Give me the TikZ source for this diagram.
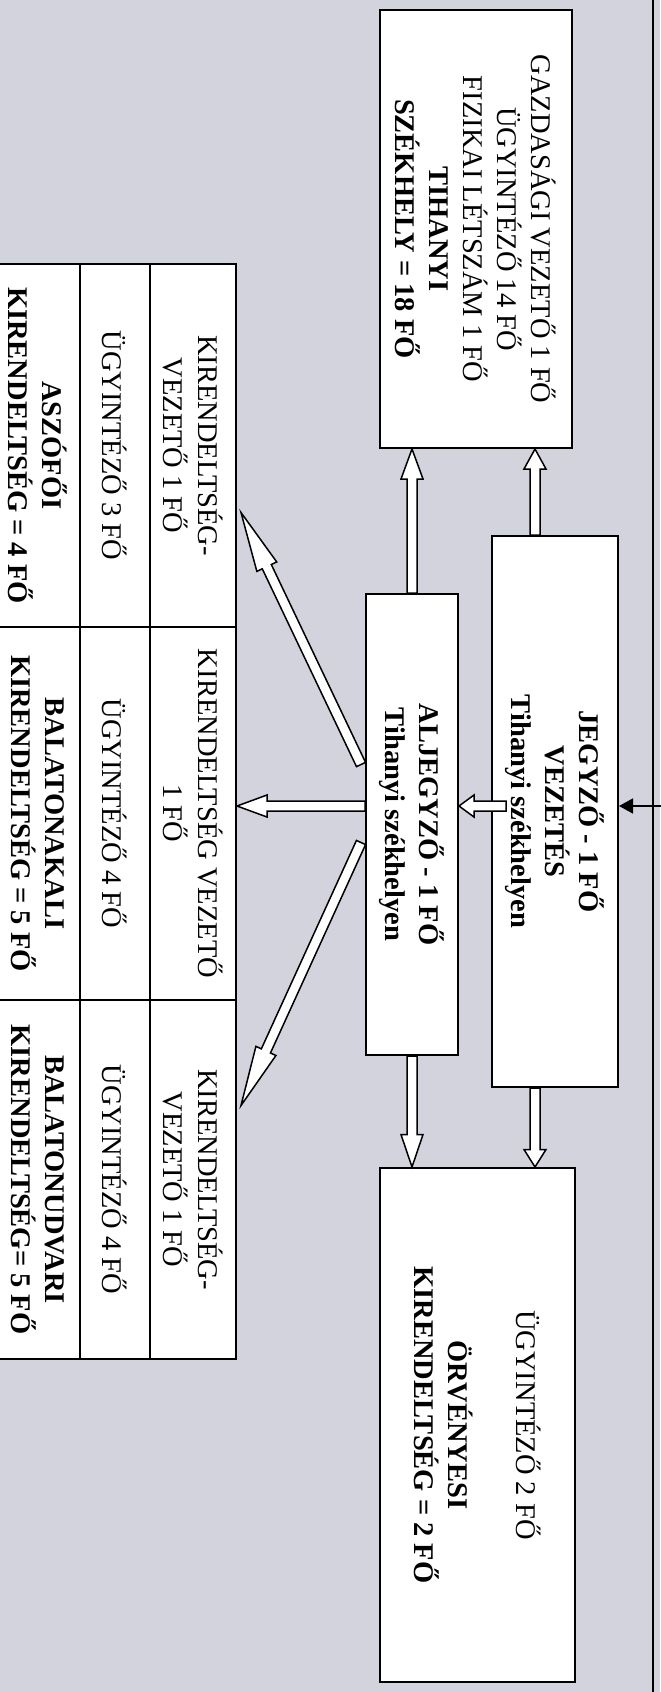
\documentclass[tikz,border=0pt]{standalone}
\usepackage{fontspec}
\setmainfont{Liberation Serif}
\usetikzlibrary{calc,arrows.meta}

\definecolor{scangray}{RGB}{211,211,221}

% hollow block arrow: [head length]{from}{to}
\newcommand{\blockarrow}[3][10pt]{%
  \coordinate (ba-h) at ($(#3)!#1!(#2)$);
  \filldraw[arrowbody]
    ($(#2)!2pt!90:(#3)$) -- ($(ba-h)!2pt!90:(#3)$) -- ($(ba-h)!4.4pt!90:(#3)$) -- (#3)
    -- ($(ba-h)!4.4pt!-90:(#3)$) -- ($(ba-h)!2pt!-90:(#3)$) -- ($(#2)!2pt!-90:(#3)$) -- cycle;
}

\begin{document}
\begin{tikzpicture}[x=0.4pt,y=-0.4pt,
  box/.style={draw,line width=0.8pt,fill=white,rotate=-90,align=center,inner sep=1pt,
    font=\fontsize{11.4}{13.6}\selectfont},
  boldbox/.style={box,font=\bfseries\fontsize{11.4}{13.6}\selectfont},
  cell/.style={draw,line width=0.8pt,fill=white,rotate=-90,align=center,inner sep=1pt,
    font=\fontsize{11.4}{14}\selectfont},
  boldcell/.style={cell,font=\bfseries\fontsize{11.4}{13.6}\selectfont},
  arrowbody/.style={draw,fill=white,line width=0.6pt,line join=miter}]
  \path[use as bounding box,fill=scangray] (0,0) rectangle (660,1692);
  \draw[line width=0.6pt] (653,0) -- (653,1692);

  % main boxes
  \node[box,minimum width=175.2pt,minimum height=76.8pt] (tihany) at (476,229)
    {GAZDASÁGI VEZETŐ 1 FŐ\\ÜGYINTÉZŐ 14 FŐ\\FIZIKAI LÉTSZÁM 1 FŐ\\\textbf{TIHANYI}\\\textbf{SZÉKHELY = 18 FŐ}};
  \node[boldbox,minimum width=220.4pt,minimum height=50.4pt] (jegyzo) at (555,811.5)
    {JEGYZŐ - 1 FŐ\\VEZETÉS\\Tihanyi székhelyen};
  \node[boldbox,minimum width=184.4pt,minimum height=36.8pt] (aljegyzo) at (412,824.5)
    {ALJEGYZŐ - 1 FŐ\\Tihanyi székhelyen};
  \node[box,minimum width=205.6pt,minimum height=78pt] (orveny) at (477.5,1425)
    {ÜGYINTÉZŐ 2 FŐ\\[13.6pt]\textbf{ÖRVÉNYESI}\\\textbf{KIRENDELTSÉG = 2 FŐ}};

  % kirendeltsegek
  \node[cell,minimum width=145.2pt,minimum height=34.4pt] (asz1) at (193,445.5) {KIRENDELTSÉG-\\VEZETŐ 1 FŐ};
  \node[cell,minimum width=149.2pt,minimum height=34.4pt] (akali1) at (193,813.5) {KIRENDELTSÉG VEZETŐ\\1 FŐ};
  \node[cell,minimum width=143.6pt,minimum height=34.4pt] (udv1) at (193,1179.5) {KIRENDELTSÉG-\\VEZETŐ 1 FŐ};
  \node[cell,minimum width=145.2pt,minimum height=28.4pt] (asz2) at (114.5,445.5) {ÜGYINTÉZŐ 3 FŐ};
  \node[cell,minimum width=149.2pt,minimum height=28.4pt] (akali2) at (114.5,813.5) {ÜGYINTÉZŐ 4 FŐ};
  \node[cell,minimum width=143.6pt,minimum height=28.4pt] (udv2) at (114.5,1179.5) {ÜGYINTÉZŐ 4 FŐ};
  \node[boldcell,minimum width=145.2pt,minimum height=34pt] (asz3) at (37.5,445.5) {ASZÓFŐI\\KIRENDELTSÉG = 4 FŐ};
  \node[boldcell,minimum width=149.2pt,minimum height=34pt] (akali3) at (37.5,813.5) {BALATONAKALI\\KIRENDELTSÉG = 5 FŐ};
  \node[boldcell,minimum width=143.6pt,minimum height=34pt] (udv3) at (37.5,1179.5) {BALATONUDVARI\\KIRENDELTSÉG= 5 FŐ};

  \coordinate (row) at (0,806);
  \coordinate (jx) at ($(jegyzo.west)+(-20,0)$);
  \coordinate (kulso) at (665,806);
  \coordinate (dl1) at ($(aljegyzo.south)+(-4,-60)$);
  \coordinate (dl2) at ($(aljegyzo.south)+(-4,18)$);
  \coordinate (t1) at ($(asz1.north)+(4,67)$);
  \coordinate (t3) at ($(udv1.north)+(4,-74)$);

  \draw[-{Triangle[length=5.6pt,width=6pt]},line width=0.6pt] (kulso) -- (jegyzo.north |- row);
  \blockarrow[8pt]{jx}{jx |- tihany.east}
  \blockarrow[12pt]{aljegyzo.west}{aljegyzo.west |- tihany.east}
  \blockarrow[7pt]{jx |- jegyzo.east}{jx |- orveny.west}
  \blockarrow[13pt]{aljegyzo.east}{aljegyzo.east |- orveny.west}
  \blockarrow[6pt]{$(jegyzo.south |- row)+(15,0)$}{aljegyzo.north |- row}
  \blockarrow[12pt]{aljegyzo.south |- row}{akali1.north |- row}
  \blockarrow[24pt]{dl1}{t1}
  \blockarrow[24pt]{dl2}{t3}
\end{tikzpicture}
\end{document}
